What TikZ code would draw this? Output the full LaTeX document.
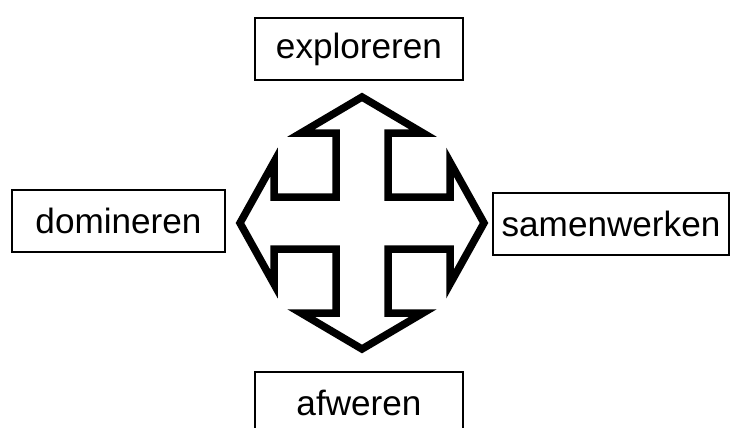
\documentclass[tikz,border=0pt]{standalone}
\usepackage{fontspec}
\setmainfont{Liberation Sans}
\usepackage{tikz}
\usetikzlibrary{positioning}

\begin{document}
\begin{tikzpicture}[
      x=0.02cm, y=-0.02cm,
      lbl/.style={draw=black, line width=1.4pt, fill=white,
                  minimum width=4.16cm, minimum height=1.24cm,
                  inner sep=5pt, font=\fontsize{20}{24}\selectfont},
      cross/.style={draw=black, line width=0.15cm, line join=miter,
                    fill=white},
    ]
    \useasboundingbox (0,0) rectangle (733,427);

    \node[lbl] (explore)   at (359,49)  {exploreren};
    \node[lbl, minimum width=4.26cm] (dominate) at (118.5,221) {domineren};
    \node[lbl] (cooperate) at (611,224) {samenwerken};
    \node[lbl] (defend)    at (359,403) {afweren};

    % vierzijdige pijl
    \coordinate (hub) at (362,223);
    \begin{scope}[shift={(hub)}]
      \draw[cross] (26,26) -- (88,26) -- (88,61) -- (122,0) -- (88,-61) -- (88,-26)
        -- (26,-26) -- (26,-90) -- (61,-90) -- (0,-126) -- (-61,-90) -- (-26,-90)
        -- (-26,-26) -- (-88,-26) -- (-88,-61) -- (-122,0) -- (-88,61) -- (-88,26)
        -- (-26,26) -- (-26,90) -- (-61,90) -- (0,126) -- (61,90) -- (26,90) -- cycle;
    \end{scope}
  \end{tikzpicture}
\end{document}
